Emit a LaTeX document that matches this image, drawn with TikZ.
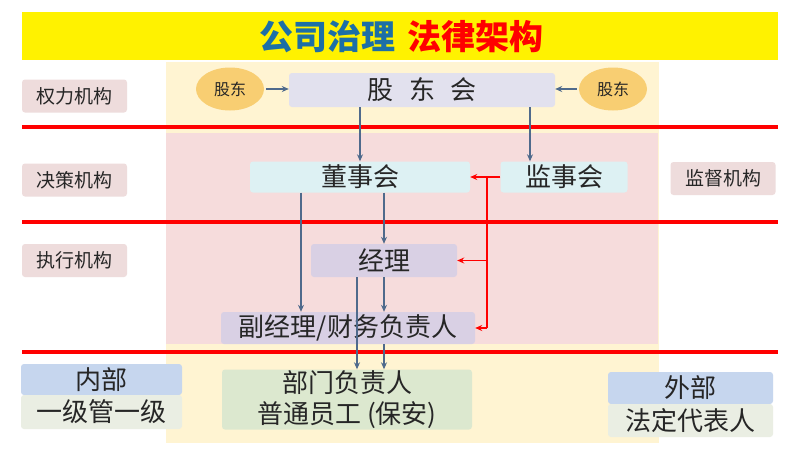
\documentclass[tikz,border=0pt]{standalone}
\usepackage{fontspec}
\setmainfont{Noto Sans CJK SC}
\usetikzlibrary{arrows.meta,shapes.geometric}
\definecolor{titleblue}{HTML}{1C6FA6}
\definecolor{beige}{HTML}{FFF4D2}
\definecolor{pinkpanel}{HTML}{F6DCDC}
\definecolor{lblpink}{HTML}{EEDCDC}
\definecolor{orangec}{HTML}{F8CE72}
\definecolor{lavender}{HTML}{E2E1EE}
\definecolor{cyanbox}{HTML}{DDF1F3}
\definecolor{purplebox}{HTML}{D9D0E4}
\definecolor{greenbox}{HTML}{DCE8CF}
\definecolor{bluebox}{HTML}{C6D6EE}
\definecolor{greybox}{HTML}{EAEEE3}
\definecolor{arrowgrey}{HTML}{4F6A8C}
\tikzset{
  lbl/.style={fill=lblpink, rounded corners=3pt, minimum width=105pt, minimum height=33pt, font=\fontsize{19}{22}\selectfont, text=black!85, inner sep=0pt},
  box/.style={rounded corners=3pt, inner sep=0pt, font=\fontsize{26}{30}\selectfont, text=black!85},
  gdcircle/.style={ellipse, fill=orangec, minimum width=68pt, minimum height=43pt, inner sep=0pt, font=\fontsize{16}{18}\selectfont, text=black!85},
  garrow/.style={draw=arrowgrey, line width=1.2pt, -{Stealth[length=7pt,width=6pt]}},
  rarrow/.style={draw=red, line width=1.2pt, -{Stealth[length=7pt,width=6pt]}},
  redline/.style={draw=red, line width=3.5pt},
}
\begin{document}
\begin{tikzpicture}[x=1pt,y=-1pt]
\useasboundingbox (0,0) rectangle (800,464);
\fill[white] (0,0) rectangle (800,464);
% panels
\fill[beige] (166,62) rectangle (659,443);
\fill[pinkpanel] (166,133) rectangle (658,344);
% title
\fill[yellow] (22,12) rectangle (778,60);
\node (title) at (401,37) {\fontsize{34}{38}\selectfont\bfseries\textcolor{titleblue}{公司治理}\hspace{12pt}\textcolor{red}{法律架构}};
% red lines
\draw[redline] (22,127) -- (778,127);
\draw[redline] (22,222) -- (778,222);
\draw[redline] (22,352) -- (778,352);
% left / right labels
\node[lbl] (quanli) at (74.5,96) {权力机构};
\node[lbl] (juece) at (74.5,180) {决策机构};
\node[lbl] (zhixing) at (74.5,260.5) {执行机构};
\node[lbl] (jiandu) at (723,178.5) {监督机构};
% shareholders
\node[gdcircle] (gdL) at (230,89) {股东};
\node[gdcircle] (gdR) at (613,89) {股东};
\node[box, fill=lavender, minimum width=266pt, minimum height=34pt] (gdh) at (422,90) {股\hspace{0.6em}东\hspace{0.6em}会};
% decision
\node[box, fill=cyanbox, minimum width=220pt, minimum height=31pt] (dsh) at (360,177) {董事会};
\node[box, fill=cyanbox, minimum width=127pt, minimum height=31pt] (jsh) at (564,177) {监事会};
% execution
\node[box, fill=purplebox, minimum width=146pt, minimum height=33pt] (jl) at (384,260.5) {经理};
\node[box, fill=purplebox, minimum width=254pt, minimum height=32pt] (fjl) at (348,328) {副经理/财务负责人};
% bottom
\node[box, fill=greenbox, minimum width=250pt, minimum height=60pt, align=center, font=\fontsize{26}{31}\selectfont] (bm) at (347,399.5) {部门负责人\\普通员工 (保安)};
\node[box, fill=bluebox, minimum width=161pt, minimum height=31pt] (nb) at (101.5,379.5) {内部};
\node[box, fill=greybox, minimum width=161pt, minimum height=34pt] (yj) at (101.5,412) {一级管一级};
\node[box, fill=bluebox, minimum width=165pt, minimum height=32pt] (wb) at (690.5,388) {外部};
\node[box, fill=greybox, minimum width=165pt, minimum height=33pt] (fd) at (690.5,420.5) {法定代表人};
% grey arrows
\draw[garrow] ([xshift=2pt]gdL.east) -- (gdh.west |- gdL.east);
\draw[garrow] ([xshift=-2pt]gdR.west) -- (gdh.east |- gdR.west);
\coordinate (c0) at (530,0);
\draw[garrow] (gdh.south -| dsh.north) -- (dsh.north);
\draw[garrow] (gdh.south -| c0) -- (jsh.north -| c0);
\coordinate (c1) at (301,0);
\coordinate (c2) at (384,0);
\coordinate (c3) at (357,0);
\draw[garrow] (dsh.south -| c1) -- (fjl.north -| c1);
\draw[garrow] (dsh.south -| c2) -- (jl.north -| c2);
\draw[garrow] (jl.south -| c2) -- (fjl.north -| c2);
\draw[garrow] (jl.south -| c3) -- (bm.north -| c3);
\draw[garrow] (fjl.south -| c2) -- (bm.north -| c2);
% red arrows
\coordinate (rv) at (487,0);
\draw[draw=red, line width=1.2pt] (jsh.west) -- (jsh.west -| rv) -- (rv |- fjl.east);
\draw[rarrow] (jsh.west -| rv) -- (dsh.east);
\draw[rarrow] (rv |- jl.east) -- (jl.east);
\draw[rarrow] (rv |- fjl.east) -- (fjl.east);
\end{tikzpicture}
\end{document}
